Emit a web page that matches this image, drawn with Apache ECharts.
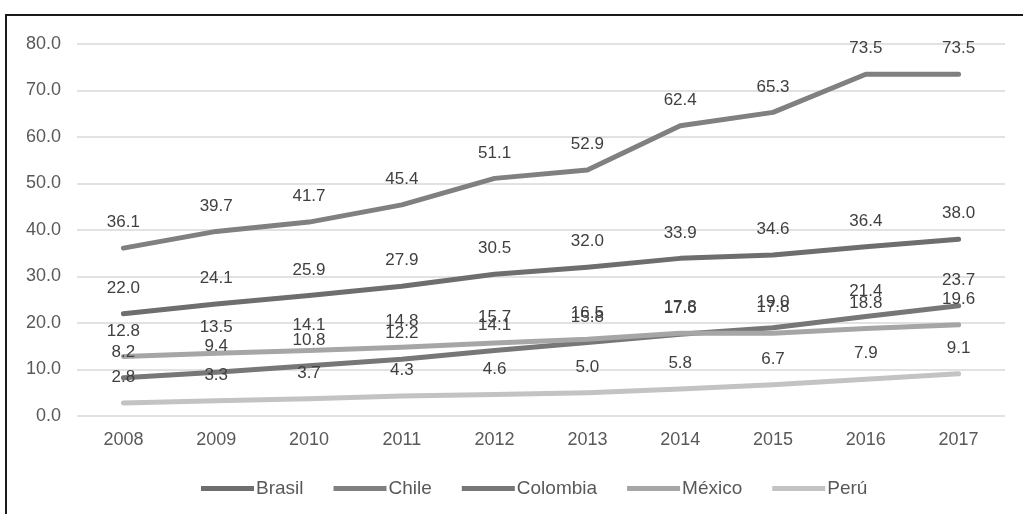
<!DOCTYPE html>
<html>
<head>
<meta charset="utf-8">
<script src="https://cdn.jsdelivr.net/npm/echarts@6/dist/echarts.min.js"></script>
<style>
  html, body { margin: 0; padding: 0; background: #ffffff; }
  #chart { width: 1023px; height: 514px; }
</style>
</head>
<body>
<div id="chart"></div>
<script>
// Years on the category axis
const years = ['2008', '2009', '2010', '2011', '2012', '2013', '2014', '2015', '2016', '2017'];

// Values per country
const brasil   = [22.0, 24.1, 25.9, 27.9, 30.5, 32.0, 33.9, 34.6, 36.4, 38.0];
const chile    = [36.1, 39.7, 41.7, 45.4, 51.1, 52.9, 62.4, 65.3, 73.5, 73.5];
const colombia = [8.2, 9.4, 10.8, 12.2, 14.1, 15.8, 17.6, 19.0, 21.4, 23.7];
const mexico   = [12.8, 13.5, 14.1, 14.8, 15.7, 16.5, 17.8, 17.8, 18.8, 19.6];
const peru     = [2.8, 3.3, 3.7, 4.3, 4.6, 5.0, 5.8, 6.7, 7.9, 9.1];

const seriesNames = ['Brasil', 'Chile', 'Colombia', 'México', 'Perú'];
const seriesData = [brasil, chile, colombia, mexico, peru];
const seriesColors = ['#6e6e6e', '#808080', '#777777', '#a6a6a6', '#c3c3c3'];

const FONT = 'Liberation Sans, Arial, sans-serif';

const chart = echarts.init(document.getElementById('chart'), null, { renderer: 'canvas' });

chart.setOption({
  animation: false,
  backgroundColor: '#ffffff',
  textStyle: { fontFamily: FONT },
  grid: { left: 77, right: 18, top: 44, bottom: 98, containLabel: false },
  legend: {
    data: seriesNames,
    left: 196,
    top: 474,
    icon: 'rect',
    itemWidth: 53,
    itemHeight: 5,
    itemGap: 30,
    textStyle: { fontFamily: FONT, fontSize: 19, color: '#595959', padding: [0, 0, 0, -3] }
  },
  xAxis: {
    type: 'category',
    data: years,
    boundaryGap: true,
    axisLine: { show: false },
    axisTick: { show: false },
    axisLabel: { fontFamily: FONT, fontSize: 18, color: '#595959', margin: 15 }
  },
  yAxis: {
    type: 'value',
    min: 0,
    max: 80,
    interval: 10,
    axisLine: { show: false },
    axisTick: { show: false },
    axisLabel: {
      fontFamily: FONT, fontSize: 18, color: '#595959', margin: 16,
      formatter: v => v.toFixed(1)
    },
    splitLine: { lineStyle: { color: '#d9d9d9', width: 1.5 } }
  },
  graphic: [
    { type: 'line', shape: { x1: 5, y1: 15, x2: 1023, y2: 15 }, style: { stroke: '#1a1a1a', lineWidth: 2 } },
    { type: 'line', shape: { x1: 6, y1: 14, x2: 6, y2: 514 }, style: { stroke: '#1a1a1a', lineWidth: 2 } }
  ],
  series: seriesNames.map((name, i) => ({
    name,
    type: 'line',
    data: seriesData[i],
    symbol: 'circle',
    symbolSize: 0,
    showSymbol: true,
    color: seriesColors[i],
    lineStyle: { width: 5, color: seriesColors[i], cap: 'round', join: 'round' },
    label: {
      show: true,
      position: 'top',
      distance: 17,
      fontFamily: FONT,
      fontSize: 17,
      color: '#404040',
      formatter: p => p.value.toFixed(1)
    },
    labelLayout: { hideOverlap: false },
    emphasis: { disabled: true }
  }))
});
</script>
</body>
</html>
